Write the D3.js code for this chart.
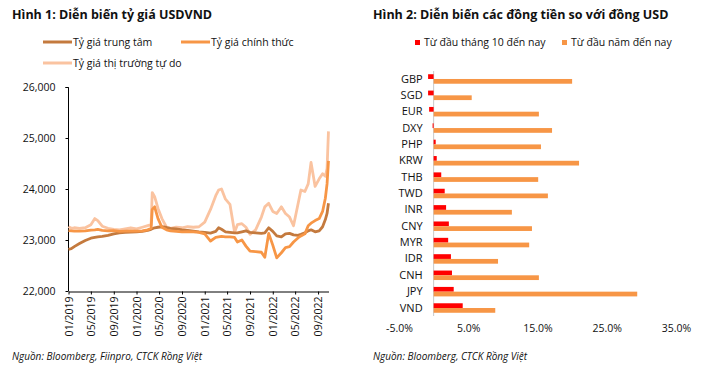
<!DOCTYPE html>
<html>
<head>
<meta charset="utf-8">
<script src="https://cdn.jsdelivr.net/npm/d3@7"></script>
<style>
  body { margin: 0; background: #fff; }
  svg { display: block; font-family: "Open Sans", "Noto Sans", sans-serif; }
  .title { font-weight: bold; font-size: 12.5px; fill: #111; }
  .legend { font-size: 10.5px; fill: #111; }
  .source { font-style: italic; font-size: 10px; fill: #111; }
  .axis text { font-size: 10.5px; fill: #111; font-family: "Open Sans", "Noto Sans", sans-serif; }
  .axis path, .axis line { stroke: #000; }
</style>
</head>
<body>
<svg id="chart" width="714" height="372"></svg>
<script>
// ---- Hình 1: tỷ giá USDVND (month offsets from 01/2019) ----
const monthOffsets = [0, 0.5, 1, 2, 3, 4, 4.7, 5.2, 6, 7, 8, 9, 10, 11, 12, 13, 14, 14.6, 14.8, 15.2,
  15.8, 16.5, 17.3, 18, 19, 20, 21, 22, 23, 24, 25, 26, 26.5, 27, 27.7, 28.5, 29.3, 29.8, 30.6, 31.3,
  32, 33, 34, 34.6, 35.3, 36, 36.7, 37.5, 38.3, 39, 39.7, 40.5, 41, 41.7, 42.3, 42.8, 43.5, 44.2, 44.8,
  45.3, 45.6, 45.85];
const centralRate = [22818, 22830, 22870, 22930, 22990, 23035, 23050, 23060, 23070, 23090, 23120, 23140,
  23150, 23155, 23160, 23170, 23190, 23210, 23220, 23240, 23250, 23260, 23245, 23230, 23220, 23200, 23190,
  23175, 23160, 23150, 23135, 23170, 23240, 23210, 23160, 23150, 23140, 23140, 23160, 23180, 23150, 23140,
  23130, 23140, 23240, 23170, 23080, 23060, 23120, 23130, 23100, 23090, 23110, 23140, 23180, 23200, 23160,
  23180, 23260, 23400, 23520, 23720];
const officialRate = [23185, 23180, 23175, 23175, 23180, 23195, 23200, 23210, 23190, 23180, 23185, 23170,
  23175, 23180, 23175, 23180, 23200, 23230, 23600, 23650, 23420, 23250, 23200, 23180, 23170, 23160, 23165,
  23160, 23150, 23120, 22980, 23050, 23060, 23070, 23060, 23060, 23050, 22960, 23000, 22880, 22780, 22770,
  22760, 22660, 23130, 22900, 22650, 22750, 22850, 22870, 22960, 23040, 23080, 23120, 23280, 23330, 23380,
  23420, 23560, 23820, 24100, 24550];
const freeRate = [23263, 23230, 23240, 23230, 23240, 23300, 23420, 23380, 23270, 23230, 23210, 23200,
  23220, 23240, 23220, 23250, 23280, 23300, 23930, 23850, 23620, 23420, 23250, 23230, 23250, 23240, 23260,
  23250, 23260, 23350, 23600, 23870, 23980, 24000, 23800, 23700, 23150, 23300, 23320, 23250, 23110, 23200,
  23450, 23650, 23720, 23560, 23520, 23650, 23520, 23450, 23280, 23700, 23980, 23950, 24100, 24520, 24050,
  24200, 24300, 24250, 24400, 25130];
const yTicks1 = [22000, 23000, 24000, 25000, 26000];
const seriesNames1 = ["Tỷ giá trung tâm", "Tỷ giá chính thức", "Tỷ giá thị trường tự do"];

// ---- Hình 2: đồng tiền so với USD (%) ----
const currencies = ["GBP", "SGD", "EUR", "DXY", "PHP", "KRW", "THB", "TWD", "INR", "CNY", "MYR", "IDR", "CNH", "JPY", "VND"];
const sinceOctober = [-0.8, -0.8, -0.65, -0.15, 0.3, 0.45, 1.1, 1.6, 1.8, 2.2, 2.1, 2.5, 2.65, 2.9, 4.2];
const sinceJanuary = [20.0, 5.5, 15.2, 17.1, 15.5, 21.0, 15.1, 16.5, 11.3, 14.2, 13.8, 9.3, 15.2, 29.4, 8.9];
const xTicks2 = [-5, 5, 15, 25, 35];
const seriesNames2 = ["Từ đầu tháng 10 đến nay", "Từ đầu năm đến nay"];

const svg = d3.select("#chart");
const colors1 = ["#C47A3E", "#F79646", "#FAC3A0"];

// ================= Chart 1 =================
svg.append("text").attr("class", "title").attr("x", 12).attr("y", 19)
  .text("Hình 1: Diễn biến tỷ giá USDVND");

const start = new Date(2019, 0, 1);
const dates = monthOffsets.map(m => {
  const whole = Math.floor(m);
  const d = new Date(2019, whole, 1);
  return new Date(d.getTime() + (m - whole) * 30.4 * 864e5);
});

const x1 = d3.scaleTime()
  .domain([start, new Date(2022, 9, 27)])
  .range([68.5, 328.5]);
const y1 = d3.scaleLinear().domain([22000, 26000]).range([291, 87]);

svg.append("g").attr("class", "axis")
  .attr("transform", "translate(68.5,0)")
  .call(d3.axisLeft(y1).tickValues(yTicks1).tickSize(3).tickPadding(10).tickFormat(d3.format(",")))
  .call(g => g.select(".domain").attr("d", "M-3,87.5H0V291"));

const monthTicks = d3.range(0, 45, 4).map(m => new Date(2019, m, 1));
const xg1 = svg.append("g").attr("class", "axis")
  .attr("transform", "translate(0,291.5)")
  .call(d3.axisBottom(x1).tickValues(monthTicks).tickSize(3).tickSizeOuter(0)
    .tickFormat(d3.timeFormat("%m/%Y")));
xg1.selectAll("text")
  .attr("transform", "rotate(-90)")
  .attr("text-anchor", "end")
  .attr("x", -5).attr("y", 0).attr("dy", "0.35em");

const line1 = vals => d3.line()
  .x((d, i) => x1(dates[i]))
  .y(d => y1(d))(vals);

// draw order: free market behind, then central, then official on top
[freeRate, centralRate, officialRate].forEach((vals, k) => {
  const ci = [2, 0, 1][k];
  svg.append("path")
    .attr("d", line1(vals))
    .attr("fill", "none")
    .attr("stroke", colors1[ci])
    .attr("stroke-width", 2.8)
    .attr("stroke-linejoin", "round");
});

// legend 1
const leg1 = [[43, 42], [181, 42], [43, 63]];
seriesNames1.forEach((name, i) => {
  svg.append("line")
    .attr("x1", leg1[i][0]).attr("x2", leg1[i][0] + 29)
    .attr("y1", leg1[i][1]).attr("y2", leg1[i][1])
    .attr("stroke", colors1[i]).attr("stroke-width", 3);
  svg.append("text").attr("class", "legend")
    .attr("x", leg1[i][0] + 30).attr("y", leg1[i][1] + 4)
    .text(name);
});

svg.append("text").attr("class", "source").attr("x", 12).attr("y", 360)
  .text("Nguồn:  Bloomberg, Fiinpro, CTCK Rồng Việt");

// ================= Chart 2 =================
svg.append("text").attr("class", "title").attr("x", 373).attr("y", 19)
  .text("Hình 2: Diễn biến các đồng tiền so với đồng USD");

const x2 = d3.scaleLinear().domain([-5, 35]).range([399, 676]);
const y2 = d3.scaleBand().domain(currencies).range([70.8, 316.2]).paddingInner(0.42).paddingOuter(0.21);
const sub = d3.scaleBand().domain([0, 1]).range([0, y2.bandwidth()]);

svg.append("line")
  .attr("x1", x2(0)).attr("x2", x2(0))
  .attr("y1", 71).attr("y2", 316)
  .attr("stroke", "#c8c8c8").attr("stroke-width", 1);

const colors2 = ["#FF0000", "#F79646"];
[sinceOctober, sinceJanuary].forEach((vals, k) => {
  svg.append("g").selectAll("rect")
    .data(currencies)
    .join("rect")
    .attr("x", (c, i) => x2(Math.min(0, vals[i])))
    .attr("width", (c, i) => Math.abs(x2(vals[i]) - x2(0)))
    .attr("y", c => y2(c) + sub(k))
    .attr("height", sub.bandwidth())
    .attr("fill", colors2[k]);
});

const ya2 = svg.append("g").attr("class", "axis")
  .attr("transform", "translate(" + x2(0) + ",0)")
  .call(d3.axisLeft(y2).tickSize(0).tickPadding(11));
ya2.select(".domain").remove();
ya2.selectAll("text").style("font-size", "11px");

const xa2 = svg.append("g").attr("class", "axis")
  .attr("transform", "translate(0,322)")
  .call(d3.axisBottom(x2).tickValues(xTicks2).tickSize(0).tickPadding(3)
    .tickFormat(d => d.toFixed(1) + "%"));
xa2.select(".domain").remove();

// legend 2
const leg2 = [[415, 40], [562, 40]];
seriesNames2.forEach((name, i) => {
  svg.append("rect")
    .attr("x", leg2[i][0]).attr("y", leg2[i][1])
    .attr("width", 5).attr("height", 5)
    .attr("fill", colors2[i]);
  svg.append("text").attr("class", "legend")
    .attr("x", leg2[i][0] + 9).attr("y", leg2[i][1] + 6)
    .text(name);
});

svg.append("text").attr("class", "source").attr("x", 373).attr("y", 360)
  .text("Nguồn:  Bloomberg, CTCK Rồng Việt");
</script>
</body>
</html>
